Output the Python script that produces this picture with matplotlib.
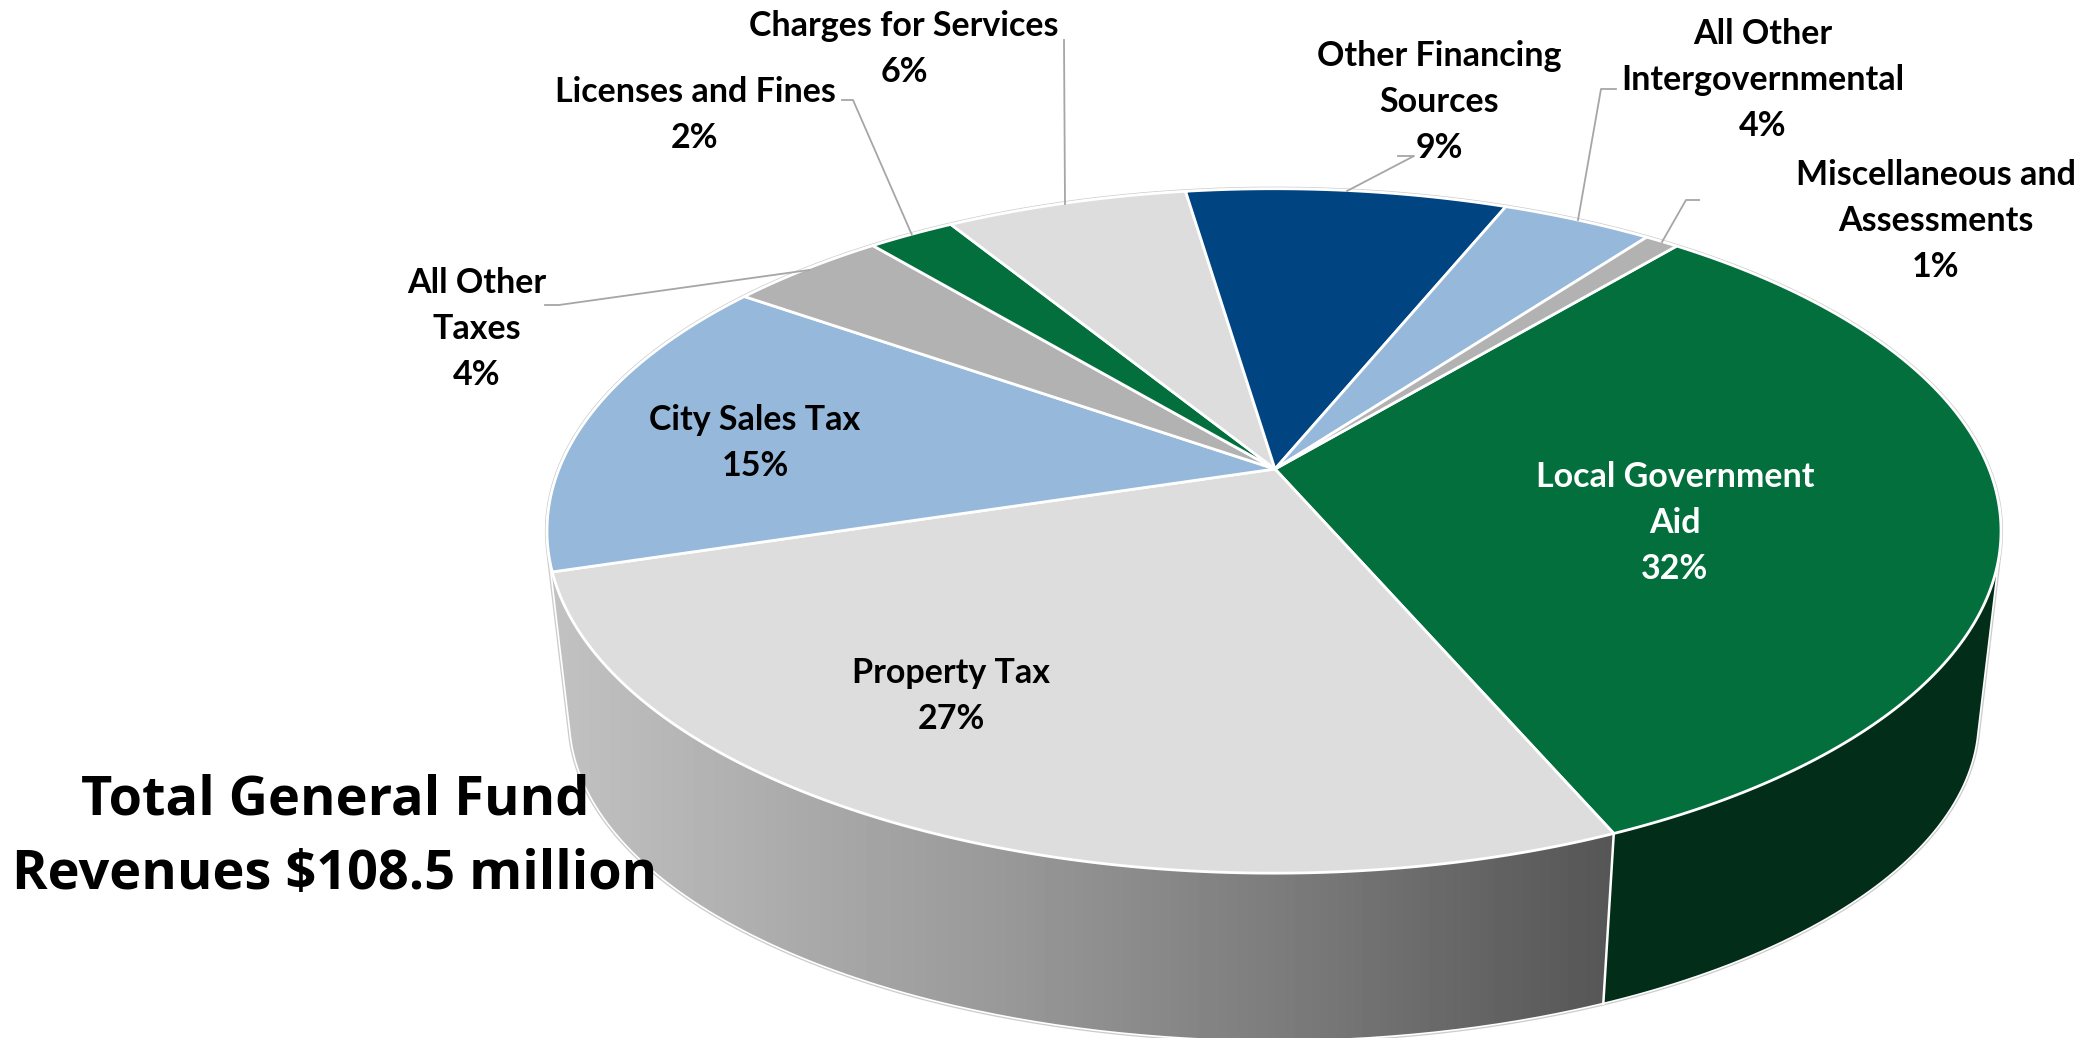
import numpy as np
import matplotlib
matplotlib.use("Agg")
import matplotlib.pyplot as plt
from matplotlib.patches import Polygon

# slice shares clockwise (labels are the rounded ones shown)
categories = ["Local Government\nAid", "Property Tax", "City Sales Tax", "All Other\nTaxes",
              "Licenses and Fines", "Charges for Services", "Other Financing\nSources",
              "All Other\nIntergovernmental", "Miscellaneous and\nAssessments"]
shares = [32.4, 26.7, 14.5, 4.2, 2.3, 6.4, 8.5, 4.0, 0.9]
pct_labels = ["32%", "27%", "15%", "4%", "2%", "6%", "9%", "4%", "1%"]
colors = ["#026F3D", "#DDDDDD", "#95B8DB", "#B2B2B2", "#026F3D", "#DDDDDD", "#004582", "#95B8DB", "#B2B2B2"]
text_colors = ["white"] + ["black"] * 8
label_x = [1675, 951, 755, 477, 695, 904, 1439, 1763, 1936]
label_y = [523, 696, 443, 329, 115, 49, 102, 80, 221]

# leader lines for the outside labels
leaders = [
    ([545, 559, 809], [305, 305, 270]),
    ([842, 853, 912], [100, 100, 235]),
    ([1064, 1065], [40, 204]),
    ([1398, 1414, 1347], [156, 156, 191]),
    ([1616, 1601, 1578], [89, 89, 220]),
    ([1699, 1686, 1662], [200, 200, 242]),
]

start_angle = 39.9  # degrees clockwise from the back of the pie
persp = 0.181

# side gradient stops (x pixel, gray level)
grad_x = [550, 800, 1000, 1300, 1500, 1610]
grad_v = [0xC2, 0xAA, 0x99, 0x7A, 0x62, 0x56]


def project(theta, apex, a, b):
    # perspective view of a round disc, theta clockwise from the back
    t = np.radians(theta)
    x, y = np.sin(t), np.cos(t)
    return apex[0] + a * x / (1 + persp * y), apex[1] - b * y / (1 + persp * y)


def top_rim(theta):
    return project(theta, (1274, 469), 715, 331)


def bottom_rim(theta):
    return project(theta, (1274, 661), 693, 311)


def convex_hull(pts):
    pts = sorted(set(map(tuple, pts)))

    def half(points):
        out = []
        for p in points:
            while len(out) > 1 and (out[-1][0] - out[-2][0]) * (p[1] - out[-2][1]) - (out[-1][1] - out[-2][1]) * (p[0] - out[-2][0]) <= 0:
                out.pop()
            out.append(p)
        return out[:-1]

    return np.array(half(pts) + half(pts[::-1]))


fig = plt.figure(figsize=(20.9, 10.38), dpi=100)
ax = fig.add_axes([0, 0, 1, 1])

edges = start_angle + 360 * np.cumsum([0] + shares) / np.sum(shares)

# outline of the whole body
all_t = np.linspace(0, 360, 721)
hull = convex_hull(np.vstack([np.column_stack(top_rim(all_t)), np.column_stack(bottom_rim(all_t))]))
ax.add_patch(Polygon(hull, closed=True, facecolor="white", edgecolor="#CCCCCC", linewidth=3.0))

# gray side with gradient, the green part lies over it
clip = Polygon(hull, closed=True, transform=ax.transData)
xs = np.arange(0, 2090)
img = ax.imshow(np.interp(xs, grad_x, grad_v)[None, :], cmap="gray", vmin=0, vmax=255,
                extent=(0, 2090, 1038, 0), aspect="auto", zorder=2)
img.set_clip_path(clip)

seam = edges[1]
sx1, sy1 = top_rim(seam)
sx2, sy2 = bottom_rim(seam)
green_side = ax.fill([sx1, sx2, sx2, 2090, 2090, sx1], [sy1, sy2, 1038, 1038, 0, 0], color="#022D18", lw=0, zorder=3)[0]
green_side.set_clip_path(clip)
ax.plot(hull[:, 0], hull[:, 1], color="white", lw=1.2, zorder=4)
ax.plot([sx1, sx2], [sy1, sy2], color="white", lw=1.8, zorder=4)

# top of the pie
apex = (1275, 469)
for i in range(len(shares)):
    t = np.linspace(edges[i], edges[i + 1], 200)
    rx, ry = top_rim(t)
    ax.fill(np.r_[apex[0], rx], np.r_[apex[1], ry], facecolor=colors[i], edgecolor="white",
            linewidth=2.0, joinstyle="round", zorder=5)

for lx, ly in leaders:
    ax.plot(lx, ly, color="#A6A6A6", lw=1.3, zorder=6, solid_joinstyle="round")

for i in range(len(categories)):
    ax.text(label_x[i], label_y[i], categories[i] + "\n" + pct_labels[i], color=text_colors[i],
            family="Lato", weight="bold", fontsize=24.5, ha="center", va="center",
            linespacing=1.55, zorder=7)

ax.text(335, 838, "Total General Fund\nRevenues $108.5 million", family="Open Sans", weight="bold",
        fontsize=39, ha="center", va="center", linespacing=1.5, color="black", zorder=7)

ax.set_xlim(0, 2090)
ax.set_ylim(1038, 0)
ax.axis("off")
fig.savefig("out.png", dpi=100, facecolor="white")
